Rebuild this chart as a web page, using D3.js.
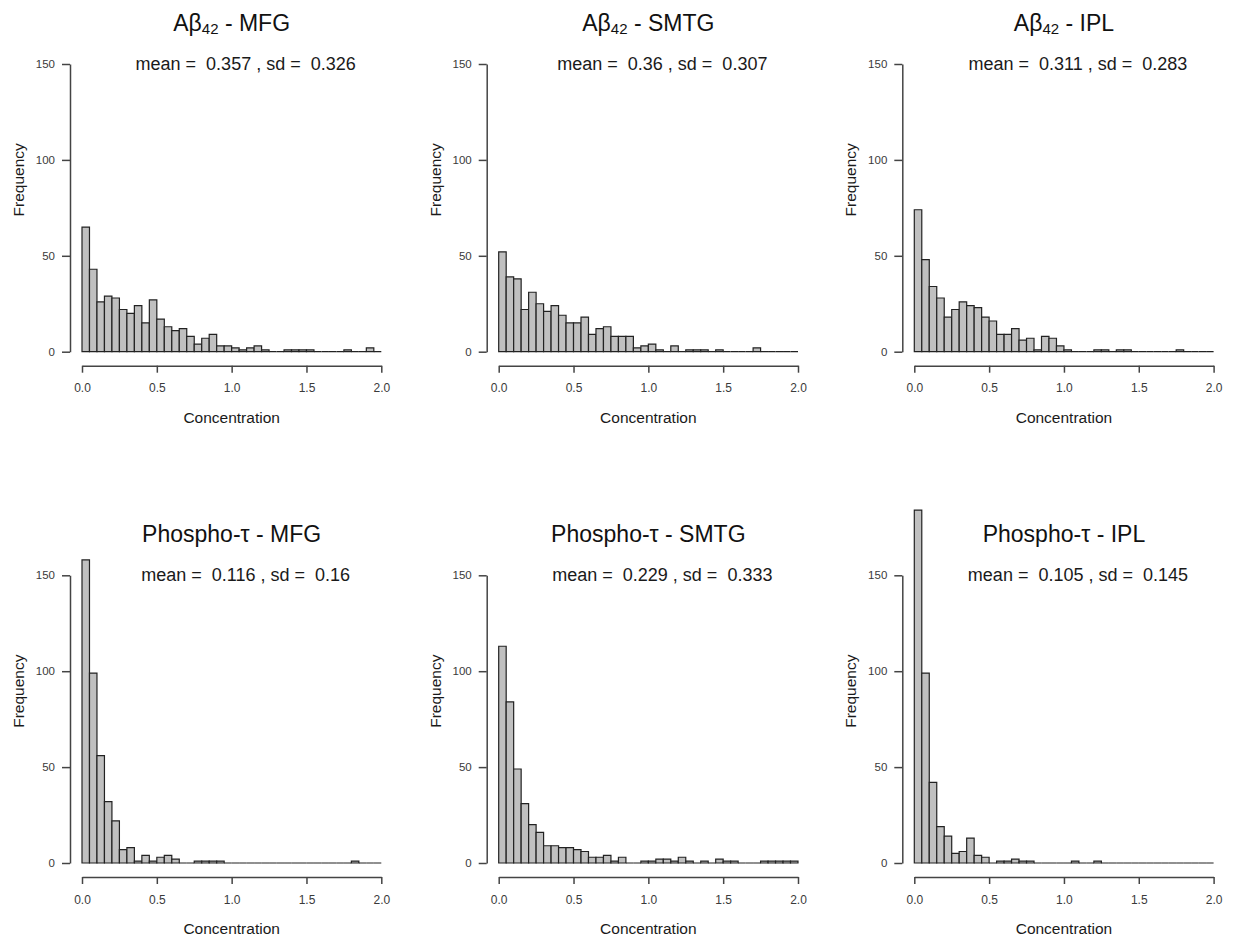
<!DOCTYPE html>
<html>
<head>
<meta charset="utf-8">
<script src="https://cdn.jsdelivr.net/npm/d3@7"></script>
<style>
  body { margin: 0; background: #fff; }
  text { font-family: "Liberation Sans", Arial, sans-serif; }
</style>
</head>
<body>
<div id="container"></div>
<script>
/* DATA */
const markers = ["Aβ", "Aβ", "Aβ", "Phospho-τ", "Phospho-τ", "Phospho-τ"];
const regions = ["MFG", "SMTG", "IPL", "MFG", "SMTG", "IPL"];
const means = ["0.357", "0.36", "0.311", "0.116", "0.229", "0.105"];
const sds = ["0.326", "0.307", "0.283", "0.16", "0.333", "0.145"];
const xTicks = [0, 0.5, 1, 1.5, 2];
const yTicks = [0, 50, 100, 150];
const binWidth = 0.05;

// counts per 0.05 bin, 0.00 -> 2.00
const abMFG = [65,43,26,29,28,22,20,24,15,27,17,13,11,12,8,4,7,9,3,3,2,1,2,3,1,0,0,1,1,1,1,0,0,0,0,1,0,0,2,0];
const abSMTG = [52,39,38,22,31,25,21,24,19,15,15,18,9,12,13,8,8,8,2,3,4,1,0,3,0,1,1,1,0,1,0,0,0,0,2,0,0,0,0,0];
const abIPL = [74,48,34,28,18,22,26,24,23,18,16,9,9,12,6,7,1,8,7,3,1,0,0,0,1,1,0,1,1,0,0,0,0,0,0,1,0,0,0,0];
const ptMFG = [158,99,56,32,22,7,8,1,4,1,3,4,2,0,0,1,1,1,1,0,0,0,0,0,0,0,0,0,0,0,0,0,0,0,0,0,1,0,0,0];
const ptSMTG = [113,84,49,31,20,16,9,9,8,8,7,6,3,3,4,1,3,0,0,1,1,2,2,1,3,1,0,1,0,2,1,1,0,0,0,1,1,1,1,1];
const ptIPL = [184,99,42,19,14,5,6,13,4,3,0,1,1,2,1,1,0,0,0,0,0,1,0,0,1,0,0,0,0,0,0,0,0,0,0,0,0,0,0,0];

const counts = [abMFG, abSMTG, abIPL, ptMFG, ptSMTG, ptIPL];

/* LAYOUT */
const width = 1238, height = 941;
const plotW = 299.3, plotH = 287.7;
const colX = [82, 498.7, 914.3];
const rowY = [64, 575.3];

const svg = d3.select("#container")
  .append("svg")
  .attr("width", width)
  .attr("height", height)
  .style("background-color", "white");

const x = d3.scaleLinear().domain([0, 2]).range([0, plotW]);
const y = d3.scaleLinear().domain([0, 150]).range([plotH, 0]);

counts.forEach((vals, i) => {
  const g = svg.append("g")
    .attr("transform", `translate(${colX[i % 3]},${rowY[Math.floor(i / 3)]})`);

  // bars as paths so that empty bins still draw the baseline
  g.selectAll("path.bar")
    .data(vals.map((v, k) => ({ x0: k * binWidth, x1: (k + 1) * binWidth, n: v })))
    .join("path")
    .attr("class", "bar")
    .attr("d", d => `M${x(d.x0)},${y(0)}V${y(d.n)}H${x(d.x1)}V${y(0)}Z`)
    .attr("fill", "#c0c0c0")
    .attr("stroke", "#222")
    .attr("stroke-width", 1.2);

  // Y AXIS
  const yAxis = g.append("g")
    .attr("transform", "translate(-12,0)")
    .attr("color", "#444")
    .call(d3.axisLeft(y).tickValues(yTicks).tickSize(8).tickSizeOuter(0).tickPadding(7));
  yAxis.selectAll("path, line").attr("stroke-width", 1.5);
  yAxis.selectAll("text").style("fill", "#3a3a3a").style("font-size", "11.5px");

  // X AXIS
  const xAxis = g.append("g")
    .attr("transform", `translate(0,${plotH + 14})`)
    .attr("color", "#444")
    .call(d3.axisBottom(x).tickValues(xTicks).tickFormat(d3.format(".1f"))
      .tickSize(7).tickSizeOuter(0).tickPadding(11));
  xAxis.selectAll("path, line").attr("stroke-width", 1.5);
  xAxis.selectAll("text").style("fill", "#3a3a3a").style("font-size", "12px");

  // TITLE
  const title = g.append("text")
    .attr("x", plotW / 2)
    .attr("y", -33)
    .attr("text-anchor", "middle")
    .style("font-size", "23px")
    .style("fill", "#111");
  title.append("tspan").text(markers[i]);
  if (markers[i] === "Aβ") {
    title.append("tspan").attr("dy", 3).style("font-size", "15px").text("42");
    title.append("tspan").attr("dy", -3).text(" - " + regions[i]);
  } else {
    title.append("tspan").text(" - " + regions[i]);
  }

  // STATS
  g.append("text")
    .attr("x", plotW / 2 + 14)
    .attr("y", 6)
    .attr("text-anchor", "middle")
    .attr("xml:space", "preserve")
    .style("white-space", "pre")
    .style("font-size", "18px")
    .style("fill", "#1a1a1a")
    .text(`mean =  ${means[i]} , sd =  ${sds[i]}`);

  // AXIS LABELS
  g.append("text")
    .attr("x", plotW / 2)
    .attr("y", plotH + 71)
    .attr("text-anchor", "middle")
    .style("font-size", "15.5px")
    .style("fill", "#1a1a1a")
    .text("Concentration");

  g.append("text")
    .attr("transform", `translate(-63.5,${plotH / 2 - 28}) rotate(-90)`)
    .attr("dy", "0.35em")
    .attr("text-anchor", "middle")
    .style("font-size", "15.5px")
    .style("fill", "#1a1a1a")
    .text("Frequency");
});
</script>
</body>
</html>
